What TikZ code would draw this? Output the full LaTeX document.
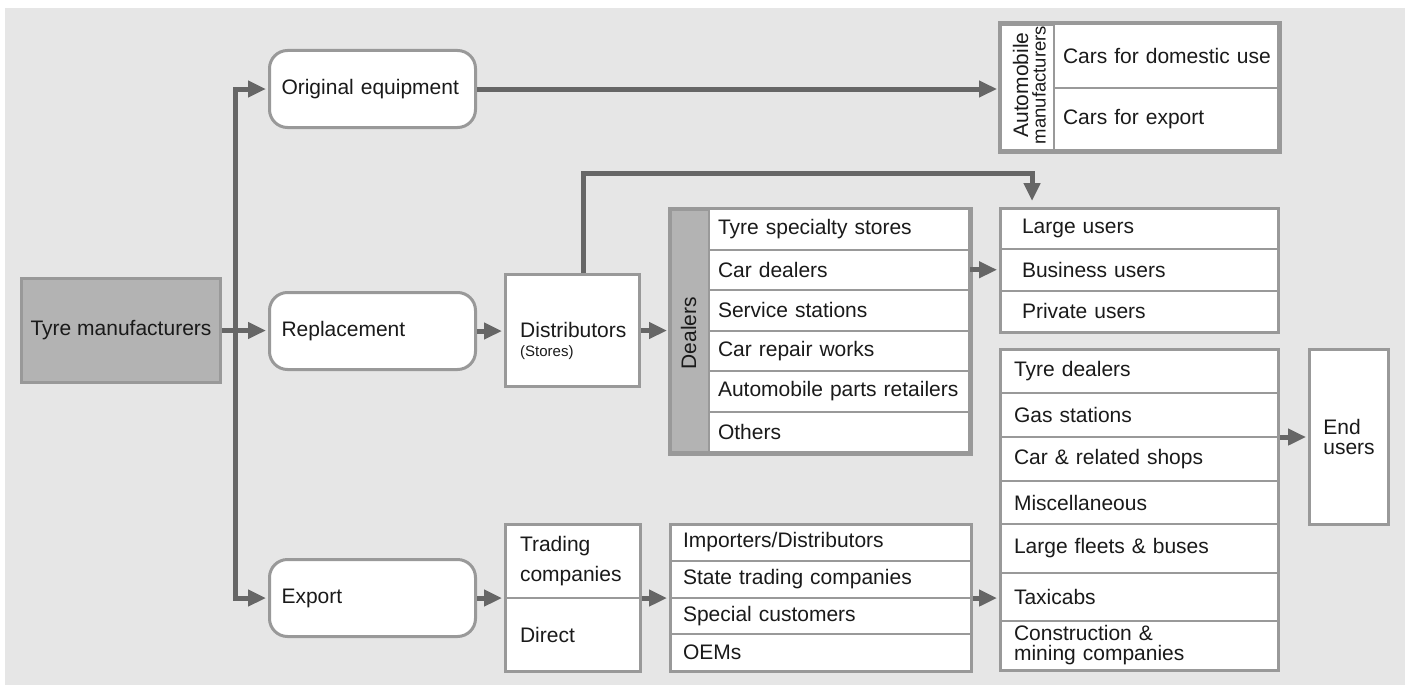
\documentclass[tikz,border=0pt]{standalone}
\usepackage{fontspec}
\setmainfont{Liberation Sans}
\usetikzlibrary{arrows.meta,calc}
\definecolor{bg}{HTML}{E6E6E6}
\definecolor{frame}{HTML}{999999}
\definecolor{conn}{HTML}{666666}
\definecolor{darkfill}{HTML}{B3B3B3}
\definecolor{txt}{HTML}{1A1A1A}
\begin{document}
\begin{tikzpicture}[x=1pt,y=-1pt,
  every node/.style={text=txt, font=\fontsize{21}{24}\selectfont},
  frm/.style={draw=frame, line width=3pt},
  outerbox/.style={draw=frame, line width=3pt, anchor=north west, inner sep=0pt},
  cellrow/.style={draw=frame, line width=2pt, fill=white, anchor=north west, inner ysep=0pt, align=left, minimum height=#1},
  rbox/.style={draw=frame, line width=3pt, fill=white, rounded corners=18pt, anchor=north west, minimum width=206pt, minimum height=77pt, inner xsep=12pt, inner ysep=0pt, text width=182pt, align=left},
  arr/.style={draw=conn, line width=5pt, -{Triangle[length=18pt,width=16pt]}, shorten >=2pt},
]
\fill[white] (0,0) rectangle (1405,685);
\fill[bg] (5,8) rectangle (1405,685);
\useasboundingbox (0,0) rectangle (1405,685);

% left column
\node[outerbox, fill=darkfill, minimum width=199pt, minimum height=104pt] (tm) at (20,277) {Tyre manufacturers};
\node[rbox] (oe) at (268,49) {Original equipment};
\node[rbox] (rep) at (268,291) {Replacement};
\node[rbox] (exp) at (268,558) {Export};

% distributors
\node[outerbox, fill=white, minimum width=134pt, minimum height=112pt] (dist) at (504,273) {};
\node[anchor=west, inner sep=0pt] (distT) at (520,330) {Distributors};
\node[anchor=west, inner sep=0pt, font=\fontsize{15}{17}\selectfont] (distS) at (520,353) {(Stores)};

% dealers
\node[outerbox, fill=darkfill, minimum width=299pt, minimum height=243pt] (dealers) at (669,208) {};
\node[rotate=90, inner sep=0pt] (dealersL) at (688.5,333) {Dealers};
\node[cellrow=40.5pt, inner xsep=9pt, text width=242pt] (d1) at (708,208) {Tyre specialty stores};
\node[cellrow=40.5pt, inner xsep=9pt, text width=242pt] (d2) at (708,248.5) {Car dealers};
\node[cellrow=40.5pt, inner xsep=9pt, text width=242pt] (d3) at (708,289) {Service stations};
\node[cellrow=40.5pt, inner xsep=9pt, text width=242pt] (d4) at (708,329.5) {Car repair works};
\node[cellrow=40.5pt, inner xsep=9pt, text width=242pt] (d5) at (708,370) {\mbox{Automobile parts retailers}};
\node[cellrow=40.5pt, inner xsep=9pt, text width=242pt] (d6) at (708,410.5) {Others};
\draw[frm] (dealers.north west) rectangle (dealers.south east);

% automobile manufacturers
\node[outerbox, fill=white, minimum width=278pt, minimum height=126pt] (auto) at (999,23) {};
\node[rotate=90, anchor=base, inner sep=0pt, font=\fontsize{21}{21}\selectfont] (autoL1) at (1028,85) {Automobile};
\node[rotate=90, anchor=base, inner sep=0pt, font=\fontsize{18.5}{18}\selectfont] (autoL2) at (1045.5,85) {manufacturers};
\node[cellrow=64pt, inner xsep=9pt, text width=206pt] (a1) at (1053,23) {\mbox{Cars for domestic use}};
\node[cellrow=62pt, inner xsep=9pt, text width=206pt] (a2) at (1053,87) {Cars for export};
\draw[frm] (auto.north west) rectangle (auto.south east);

% users
\node[cellrow=41.3pt, inner xsep=22pt, text width=234pt] (u1) at (999,207) {Large users};
\node[cellrow=41.3pt, inner xsep=22pt, text width=234pt] (u2) at (999,248.3) {Business users};
\node[cellrow=41.4pt, inner xsep=22pt, text width=234pt] (u3) at (999,289.6) {Private users};
\node[outerbox, minimum width=278pt, minimum height=124pt] (users) at (999,207) {};

% list of outlets
\node[cellrow=44pt, inner xsep=14pt, text width=250pt] (l1) at (999,348) {Tyre dealers};
\node[cellrow=44pt, inner xsep=14pt, text width=250pt] (l2) at (999,392) {Gas stations};
\node[cellrow=44pt, inner xsep=14pt, text width=250pt] (l3) at (999,436) {Car \& related shops};
\node[cellrow=43pt, inner xsep=14pt, text width=250pt] (l4) at (999,480) {Miscellaneous};
\node[cellrow=49pt, inner xsep=14pt, text width=250pt] (l5) at (999,523) {Large fleets \& buses};
\node[cellrow=48pt, inner xsep=14pt, text width=250pt] (l6) at (999,572) {Taxicabs};
\node[cellrow=49pt, inner xsep=14pt, text width=250pt, font=\fontsize{21}{20}\selectfont] (l7) at (999,620) {Construction \&\\mining companies};
\node[outerbox, minimum width=278pt, minimum height=321pt] (list) at (999,348) {};

% end users
\node[outerbox, fill=white, minimum width=79pt, minimum height=175pt, align=left, font=\fontsize{21}{20}\selectfont] (endu) at (1308,348) {End\\users};

% trading
\node[cellrow=74pt, inner xsep=15pt, text width=105pt, font=\fontsize{21}{30}\selectfont] (t1) at (504,523) {Trading\\companies};
\node[cellrow=73pt, inner xsep=15pt, text width=105pt] (t2) at (504,597) {Direct};
\node[outerbox, minimum width=135pt, minimum height=147pt] (trbox) at (504,523) {};

% importers
\node[cellrow=37pt, inner xsep=13pt, text width=275pt] (i1) at (669,523) {Importers/Distributors};
\node[cellrow=36.5pt, inner xsep=13pt, text width=275pt] (i2) at (669,560) {State trading companies};
\node[cellrow=36.5pt, inner xsep=13pt, text width=275pt] (i3) at (669,596.5) {Special customers};
\node[cellrow=37pt, inner xsep=13pt, text width=275pt] (i4) at (669,633) {OEMs};
\node[outerbox, minimum width=301pt, minimum height=147pt] (impbox) at (669,523) {};

% connectors
\coordinate (trunk) at (235,329);
\coordinate (bend) at (583,173);
\coordinate (drop) at (1032,173);
\draw[arr] (tm.east) -- (tm.east -| rep.west);
\draw[arr] (trunk) |- (oe.west);
\draw[arr] (trunk) |- (exp.west);
\draw[arr] (oe.east) -- (oe.east -| auto.west);
\draw[arr] (rep.east) -- (rep.east -| dist.west);
\draw[arr] (dist.east) -- (dist.east -| dealers.west);
\draw[arr, shorten >=6pt] (dist.north west -| bend) -- (bend) -- (drop) -- (drop |- users.north);
\draw[arr] (d2.east) -- (d2.east -| users.west);
\draw[arr] (exp.east) -- (exp.east -| trbox.west);
\draw[arr] (trbox.east) -- (trbox.east -| impbox.west);
\draw[arr] (impbox.east) -- (impbox.east -| list.west);
\draw[arr] (endu.west -| list.east) -- (endu.west);
\end{tikzpicture}
\end{document}
